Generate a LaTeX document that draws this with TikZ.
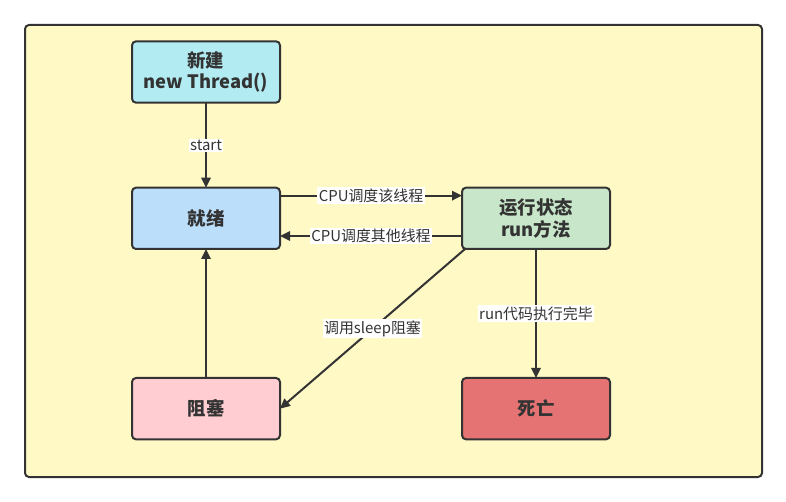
\documentclass[tikz,border=0pt]{standalone}
\usepackage{fontspec}
\setmainfont{Noto Sans CJK SC}
\usepackage{xcolor}
\usetikzlibrary{arrows.meta, positioning, calc}

\definecolor{bgyellow}{HTML}{FFF9C6}
\definecolor{edge}{HTML}{333333}
\definecolor{newcyan}{HTML}{B2EBF2}
\definecolor{readyblue}{HTML}{BBDEFB}
\definecolor{rungreen}{HTML}{C8E6C9}
\definecolor{blockpink}{HTML}{FFCDD2}
\definecolor{deadred}{HTML}{E57373}

\begin{document}
\begin{tikzpicture}[
    x=0.75pt, y=-0.75pt,
    every node/.style={text=edge},
    state/.style={rectangle, draw=edge, line width=1.5pt, fill=#1, minimum width=111pt, minimum height=46pt, outer sep=0pt, align=center, rounded corners=3pt, font=\fontsize{13.8pt}{16pt}\selectfont\bfseries},
    lbl/.style={fill=white, inner sep=1pt, font=\fontsize{11.2pt}{13pt}\selectfont},
    arrow/.style={-{Triangle[length=7.5pt, width=7pt]}, line width=1.5pt, draw=edge}
]
\useasboundingbox (0,0) rectangle (786,502);
\draw[edge, line width=1.5pt, fill=bgyellow, rounded corners=3pt] (25,25) rectangle (762,477);
\node[state=newcyan] (new) at (206,72) {新建\\new Thread()};
\node[state=readyblue, below=63.75pt of new] (ready) {就绪};
\node[state=rungreen, right=136.5pt of ready] (run) {运行状态\\run方法};
\node[state=blockpink, below=96.75pt of ready] (block) {阻塞};
\node[state=deadred, below=96.75pt of run] (dead) {死亡};
\draw[arrow] (new) -- node[lbl] {start} (ready);
\draw[arrow] ($(ready.north east)+(0,8)$) -- node[lbl] {CPU调度该线程} ($(run.north west)+(0,8)$);
\draw[arrow] ($(run.south west)+(0,-13)$) -- node[lbl] {CPU调度其他线程} ($(ready.south east)+(0,-13)$);
\draw[arrow] ($(run.south west)+(3,0)$) -- node[lbl] {调用sleep阻塞} (block.east);
\draw[arrow] (run) -- node[lbl] {run代码执行完毕} (dead);
\draw[arrow] (block) -- (ready);
\end{tikzpicture}
\end{document}
